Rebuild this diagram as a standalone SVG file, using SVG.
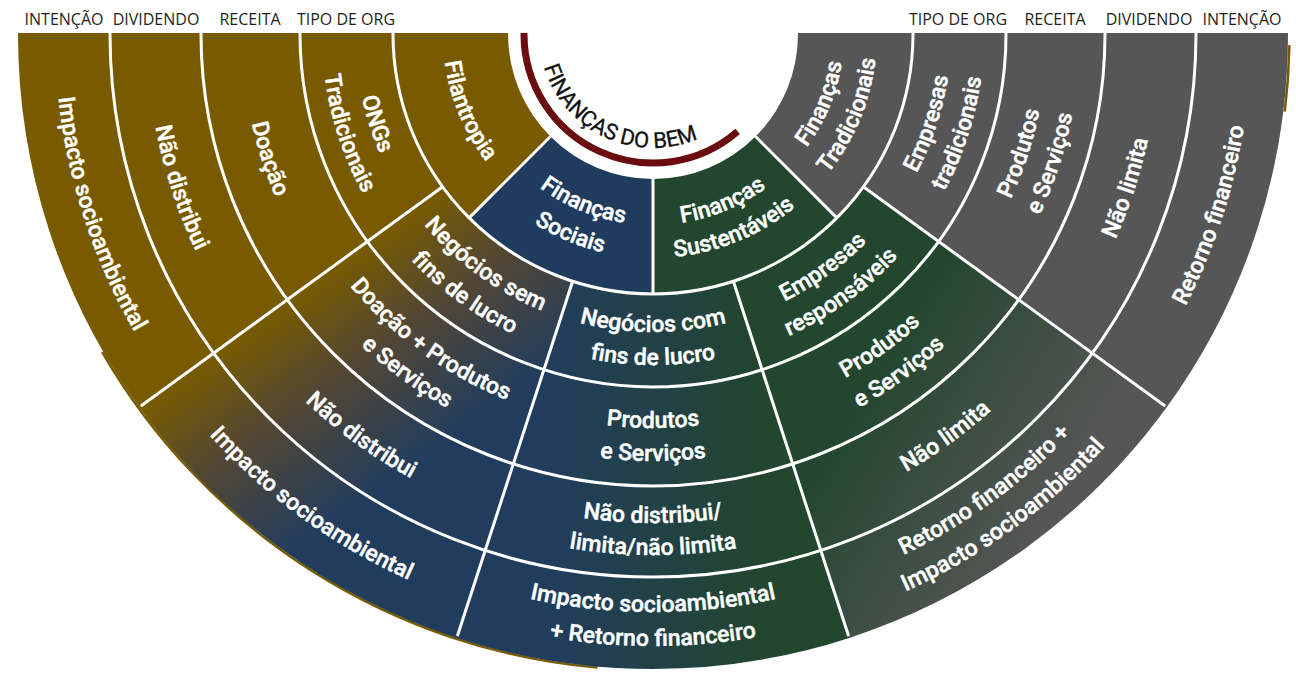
<svg xmlns="http://www.w3.org/2000/svg" width="1296" height="673" viewBox="0 0 1296 673">
<style>
.hdr{font-family:"Open Sans","Liberation Sans",sans-serif;font-size:16px;fill:#231f20;text-anchor:middle}
.lbl{font-family:Roboto,"Liberation Sans",sans-serif;font-size:23px;font-weight:500;fill:#ffffff;stroke:#ffffff;stroke-width:0.45px;text-anchor:middle}
.div{fill:none;stroke:#ffffff;stroke-width:3}
.title{font-family:Roboto,"Liberation Sans",sans-serif;font-size:22px;fill:#111111;stroke:#111111;stroke-width:0.3px;text-anchor:middle}
</style>
<defs>
<linearGradient id="gL" gradientUnits="userSpaceOnUse" x1="329.4" y1="269.1" x2="452.9" y2="439">
<stop offset="0" stop-color="#785b00"/><stop offset="0.45" stop-color="#514636"/><stop offset="1" stop-color="#213d5e"/>
</linearGradient>
<linearGradient id="gC" gradientUnits="userSpaceOnUse" x1="545" y1="0" x2="765" y2="0">
<stop offset="0" stop-color="#213d5e"/><stop offset="1" stop-color="#22462e"/>
</linearGradient>
<linearGradient id="gR" gradientUnits="userSpaceOnUse" x1="850" y1="400" x2="1050" y2="520">
<stop offset="0" stop-color="#22462e"/><stop offset="1" stop-color="#565656"/>
</linearGradient>
<path id="a191" d="M -146.31 122.77 A 191 191 0 0 0 146.31 122.77"/>
<path id="a210" d="M -160.87 134.99 A 210 210 0 0 0 160.87 134.99"/>
<path id="a224" d="M -171.59 143.98 A 224 224 0 0 0 171.59 143.98"/>
<path id="a298" d="M -228.28 191.55 A 298 298 0 0 0 228.28 191.55"/>
<path id="a331" d="M -253.56 212.76 A 331 331 0 0 0 253.56 212.76"/>
<path id="a394" d="M -301.82 253.26 A 394 394 0 0 0 301.82 253.26"/>
<path id="a411" d="M -314.84 264.19 A 411 411 0 0 0 314.84 264.19"/>
<path id="a427" d="M -327.10 274.47 A 427 427 0 0 0 327.10 274.47"/>
<path id="a489" d="M -374.60 314.32 A 489 489 0 0 0 374.60 314.32"/>
<path id="a506" d="M -387.62 325.25 A 506 506 0 0 0 387.62 325.25"/>
<path id="a521" d="M -399.11 334.89 A 521 521 0 0 0 399.11 334.89"/>
<path id="a578" d="M -442.77 371.53 A 578 578 0 0 0 442.77 371.53"/>
<path id="a598" d="M -458.09 384.39 A 598 598 0 0 0 458.09 384.39"/>
<path id="a612" d="M -468.82 393.39 A 612 612 0 0 0 468.82 393.39"/>
<path id="t114" d="M -107.13 38.99 A 114 114 0 0 0 107.13 38.99"/>
</defs>
<rect width="1296" height="673" fill="#ffffff"/>

<g id="headers">
<text class="hdr" x="64" y="25">INTENÇÃO</text>
<text class="hdr" x="156" y="25">DIVIDENDO</text>
<text class="hdr" x="250" y="25">RECEITA</text>
<text class="hdr" x="346" y="25">TIPO DE ORG</text>
<text class="hdr" x="958" y="25">TIPO DE ORG</text>
<text class="hdr" x="1055" y="25">RECEITA</text>
<text class="hdr" x="1149" y="25">DIVIDENDO</text>
<text class="hdr" x="1242" y="25">INTENÇÃO</text>
</g>

<g id="sectors">
<path d="M 102.21 352 A 636 636 0 0 0 597.57 667.58" fill="none" stroke="#785b00" stroke-width="2.5"/>
<path d="M 1284.76 111.57 A 636.5 636.5 0 0 0 1289.4 45.11" fill="none" stroke="#785b00" stroke-width="2.5"/>
<path fill="#785b00" d="M 18 33 L 18 34 A 635 635 0 0 0 139.27 407.24 L 442.66 186.82 A 260 260 0 0 0 469.15 217.85 L 550.47 136.53 A 145 145 0 0 1 508 34 L 508 33 Z"/>
<path fill="#565656" d="M 1288 33 L 1288 34 A 635 635 0 0 1 1166.73 407.24 L 863.34 186.82 A 260 260 0 0 1 836.85 217.85 L 755.53 136.53 A 145 145 0 0 0 798 34 L 798 33 Z"/>
<path fill="#1f3c5e" d="M 469.15 217.85 A 260 260 0 0 0 653 294 L 653 179 A 145 145 0 0 1 550.47 136.53 Z"/>
<path fill="#22462e" d="M 653 294 A 260 260 0 0 0 836.85 217.85 L 755.53 136.53 A 145 145 0 0 1 653 179 Z"/>
<path fill="url(#gL)" d="M 139.27 407.24 A 635 635 0 0 0 456.77 637.92 L 572.66 281.27 A 260 260 0 0 1 442.66 186.82 Z"/>
<path fill="url(#gC)" d="M 456.77 637.92 A 635 635 0 0 0 849.23 637.92 L 733.34 281.27 A 260 260 0 0 1 572.66 281.27 Z"/>
<path fill="url(#gR)" d="M 849.23 637.92 A 635 635 0 0 0 1166.73 407.24 L 863.34 186.82 A 260 260 0 0 1 733.34 281.27 Z"/>
</g>

<g id="connectors" class="div">
<path d="M 393 33 L 393 34 A 260 260 0 0 0 913 34 L 913 33"/>
<path d="M 300 33 L 300 34 A 353 353 0 0 0 1006 34 L 1006 33"/>
<path d="M 201 33 L 201 34 A 452 452 0 0 0 1105 34 L 1105 33"/>
<path d="M 110 33 L 110 34 A 543 543 0 0 0 1196 34 L 1196 33"/>
<path d="M 550.47 136.53 L 469.15 217.85"/>
<path d="M 653 179 L 653 294"/>
<path d="M 755.53 136.53 L 836.85 217.85"/>
<path d="M 442.66 186.82 L 140.89 406.07"/>
<path d="M 572.66 281.27 L 457.39 636.02"/>
<path d="M 733.34 281.27 L 848.61 636.02"/>
<path d="M 863.34 186.82 L 1165.11 406.07"/>
</g>

<g id="center">
<path d="M 524 33 L 524 34 A 129 129 0 0 0 737.63 131.36" fill="none" stroke="#6b0d0f" stroke-width="7"/>
<g transform="translate(653 34) rotate(25)"><text class="title"><textPath href="#t114" startOffset="50%">FINANÇAS DO BEM</textPath></text></g>
</g>

<g id="filantropia" transform="translate(653 34) rotate(67.5)"><text class="lbl"><textPath href="#a210" startOffset="50%">Filantropia</textPath></text></g>
<g id="financas-sociais" transform="translate(653 34) rotate(22.5)"><text class="lbl"><textPath href="#a191" startOffset="50%">Finanças</textPath></text><text class="lbl"><textPath href="#a224" startOffset="50%">Sociais</textPath></text></g>
<g id="financas-sustentaveis" transform="translate(653 34) rotate(-22.5)"><text class="lbl"><textPath href="#a191" startOffset="50%">Finanças</textPath></text><text class="lbl"><textPath href="#a224" startOffset="50%">Sustentáveis</textPath></text></g>
<g id="financas-tradicionais" transform="translate(653 34) rotate(-67.5)"><text class="lbl"><textPath href="#a191" startOffset="50%">Finanças</textPath></text><text class="lbl"><textPath href="#a224" startOffset="50%">Tradicionais</textPath></text></g>

<g id="org-ongs" transform="translate(653 34) rotate(72)"><text class="lbl"><textPath href="#a298" startOffset="50%">ONGs</textPath></text><text class="lbl"><textPath href="#a331" startOffset="50%">Tradicionais</textPath></text></g>
<g id="org-sem-fins" transform="translate(653 34) rotate(36)"><text class="lbl"><textPath href="#a298" startOffset="50%">Negócios sem</textPath></text><text class="lbl"><textPath href="#a331" startOffset="50%">fins de lucro</textPath></text></g>
<g id="org-com-fins" transform="translate(653 34)"><text class="lbl"><textPath href="#a298" startOffset="50%">Negócios com</textPath></text><text class="lbl"><textPath href="#a331" startOffset="50%">fins de lucro</textPath></text></g>
<g id="org-responsaveis" transform="translate(653 34) rotate(-36)"><text class="lbl"><textPath href="#a298" startOffset="50%">Empresas</textPath></text><text class="lbl"><textPath href="#a331" startOffset="50%">responsáveis</textPath></text></g>
<g id="org-tradicionais" transform="translate(653 34) rotate(-72)"><text class="lbl"><textPath href="#a298" startOffset="50%">Empresas</textPath></text><text class="lbl"><textPath href="#a331" startOffset="50%">tradicionais</textPath></text></g>

<g id="rec-1" transform="translate(653 34) rotate(72)"><text class="lbl"><textPath href="#a411" startOffset="50%">Doação</textPath></text></g>
<g id="rec-2" transform="translate(653 34) rotate(36)"><text class="lbl"><textPath href="#a394" startOffset="50%">Doação + Produtos</textPath></text><text class="lbl"><textPath href="#a427" startOffset="50%">e Serviços</textPath></text></g>
<g id="rec-3" transform="translate(653 34)"><text class="lbl"><textPath href="#a394" startOffset="50%">Produtos</textPath></text><text class="lbl"><textPath href="#a427" startOffset="50%">e Serviços</textPath></text></g>
<g id="rec-4" transform="translate(653 34) rotate(-36)"><text class="lbl"><textPath href="#a394" startOffset="50%">Produtos</textPath></text><text class="lbl"><textPath href="#a427" startOffset="50%">e Serviços</textPath></text></g>
<g id="rec-5" transform="translate(653 34) rotate(-72)"><text class="lbl"><textPath href="#a394" startOffset="50%">Produtos</textPath></text><text class="lbl"><textPath href="#a427" startOffset="50%">e Serviços</textPath></text></g>

<g id="div-1" transform="translate(653 34) rotate(72)"><text class="lbl"><textPath href="#a506" startOffset="50%">Não distribui</textPath></text></g>
<g id="div-2" transform="translate(653 34) rotate(36)"><text class="lbl"><textPath href="#a506" startOffset="50%">Não distribui</textPath></text></g>
<g id="div-3" transform="translate(653 34)"><text class="lbl"><textPath href="#a489" startOffset="50%">Não distribui/</textPath></text><text class="lbl"><textPath href="#a521" startOffset="50%">limita/não limita</textPath></text></g>
<g id="div-4" transform="translate(653 34) rotate(-36)"><text class="lbl"><textPath href="#a506" startOffset="50%">Não limita</textPath></text></g>
<g id="div-5" transform="translate(653 34) rotate(-72)"><text class="lbl"><textPath href="#a506" startOffset="50%">Não limita</textPath></text></g>

<g id="int-1" transform="translate(653 34) rotate(72)"><text class="lbl"><textPath href="#a598" startOffset="50%">Impacto socioambiental</textPath></text></g>
<g id="int-2" transform="translate(653 34) rotate(36)"><text class="lbl"><textPath href="#a598" startOffset="50%">Impacto socioambiental</textPath></text></g>
<g id="int-3" transform="translate(653 34)"><text class="lbl"><textPath href="#a578" startOffset="50%">Impacto socioambiental</textPath></text><text class="lbl"><textPath href="#a612" startOffset="50%">+ Retorno financeiro</textPath></text></g>
<g id="int-4" transform="translate(653 34) rotate(-36)"><text class="lbl"><textPath href="#a578" startOffset="50%">Retorno financeiro +</textPath></text><text class="lbl"><textPath href="#a612" startOffset="50%">Impacto socioambiental</textPath></text></g>
<g id="int-5" transform="translate(653 34) rotate(-72)"><text class="lbl"><textPath href="#a598" startOffset="50%">Retorno financeiro</textPath></text></g>
</svg>
